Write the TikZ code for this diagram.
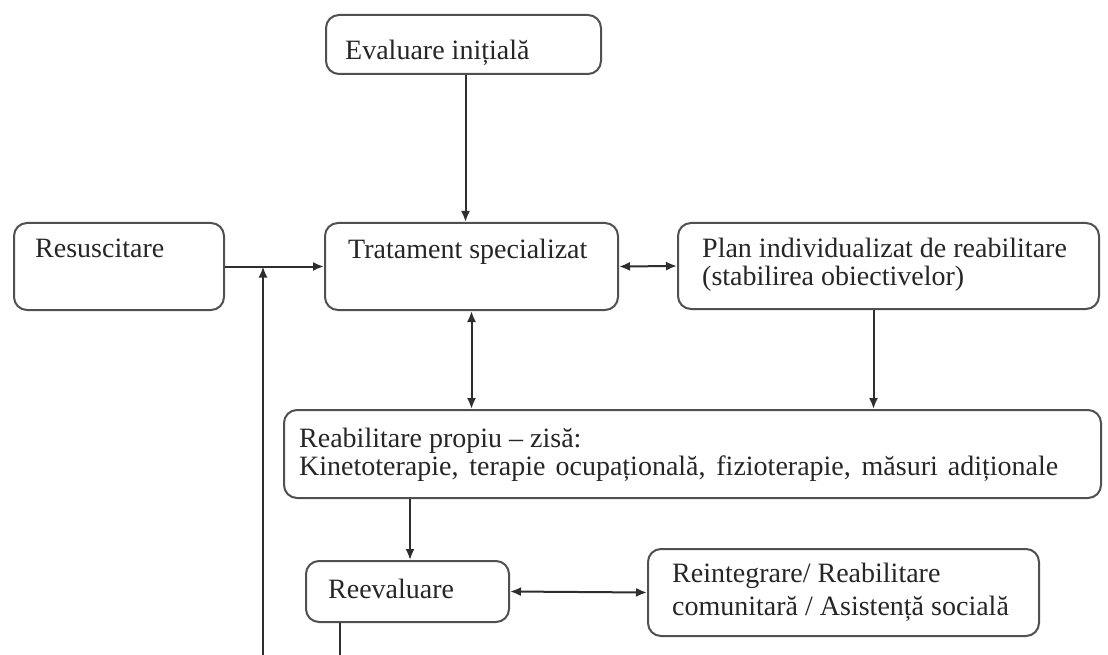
\documentclass[tikz,border=0pt]{standalone}
\usepackage{fontspec}
\setmainfont{Liberation Serif}
\usetikzlibrary{arrows.meta,calc}
\definecolor{ln}{HTML}{2e2e2e}
\definecolor{bx}{HTML}{505050}
\tikzset{
  box/.style={draw=bx, line width=2pt, rounded corners=13pt, anchor=north west, inner sep=0pt, fill=white},
  lbl/.style={anchor=base west, inner sep=0pt, font=\fontsize{28}{27}\selectfont, text=black!85, align=left},
  conn/.style={draw=ln, line width=2pt},
  arr/.style={conn, -{Latex[length=11pt,width=9pt]}},
  darr/.style={conn, {Latex[length=11pt,width=9pt]}-{Latex[length=11pt,width=9pt]}}
}
\begin{document}
\begin{tikzpicture}[x=1pt,y=-1pt]
\useasboundingbox (0,0) rectangle (1108,655);
% boxes
\node[box, minimum width=275pt, minimum height=59pt] (ev) at (325,14) {};
\node[box, minimum width=210pt, minimum height=87pt] (res) at (13,222) {};
\node[box, minimum width=293pt, minimum height=87pt] (tr) at (324,222) {};
\node[box, minimum width=421pt, minimum height=86pt] (pl) at (677,222) {};
\node[box, minimum width=817pt, minimum height=88pt] (rb) at (283,409) {};
\node[box, minimum width=203pt, minimum height=61pt] (rv) at (305,560) {};
\node[box, minimum width=391pt, minimum height=87pt] (ri) at (647,548) {};
% labels
\node[lbl] (evt) at (345,60) {Evaluare inițială};
\node[lbl] (rest) at (35,257) {Resuscitare};
\node[lbl] (trt) at (348,258) {Tratament specializat};
\node[lbl] (plt1) at (702,257) {Plan individualizat de reabilitare};
\node[lbl] (plt2) at (702,285) {(stabilirea obiectivelor)};
\node[lbl] (rbt1) at (299,447) {Reabilitare propiu – zisă:};
\node[lbl] (rbt2) at (299,475) {\makebox[759pt][s]{Kinetoterapie, terapie ocupațională, fizioterapie, măsuri adiționale}};
\node[lbl] (rvt) at (328,598) {Reevaluare};
\node[lbl] (rit1) at (672,582) {Reintegrare/ Reabilitare};
\node[lbl] (rit2) at (672,615) {comunitară / Asistență socială};
% coordinates for free ends
\coordinate (b1) at (263,655);
\coordinate (b2) at (340,655);
% connectors
\draw[arr] ([xshift=2pt]ev.south) -- ([xshift=2pt]ev.south |- tr.north);
\draw[arr] (res.east) -- (tr.west);
\draw[arr] (b1) -- (b1 |- res.east);
\draw[darr] (tr.east) -- (pl.west);
\draw[darr] (tr.south) -- (tr.south |- rb.north);
\draw[arr] ([xshift=-15pt]pl.south) -- ([xshift=-15pt]pl.south |- rb.north);
\draw[arr] ([xshift=127pt]rb.south west) -- ([xshift=127pt]rb.south west |- rv.north);
\draw[darr] (rv.east) -- (ri.west);
\draw[conn] ([xshift=35pt]rv.south west) -- (b2);
\end{tikzpicture}
\end{document}
